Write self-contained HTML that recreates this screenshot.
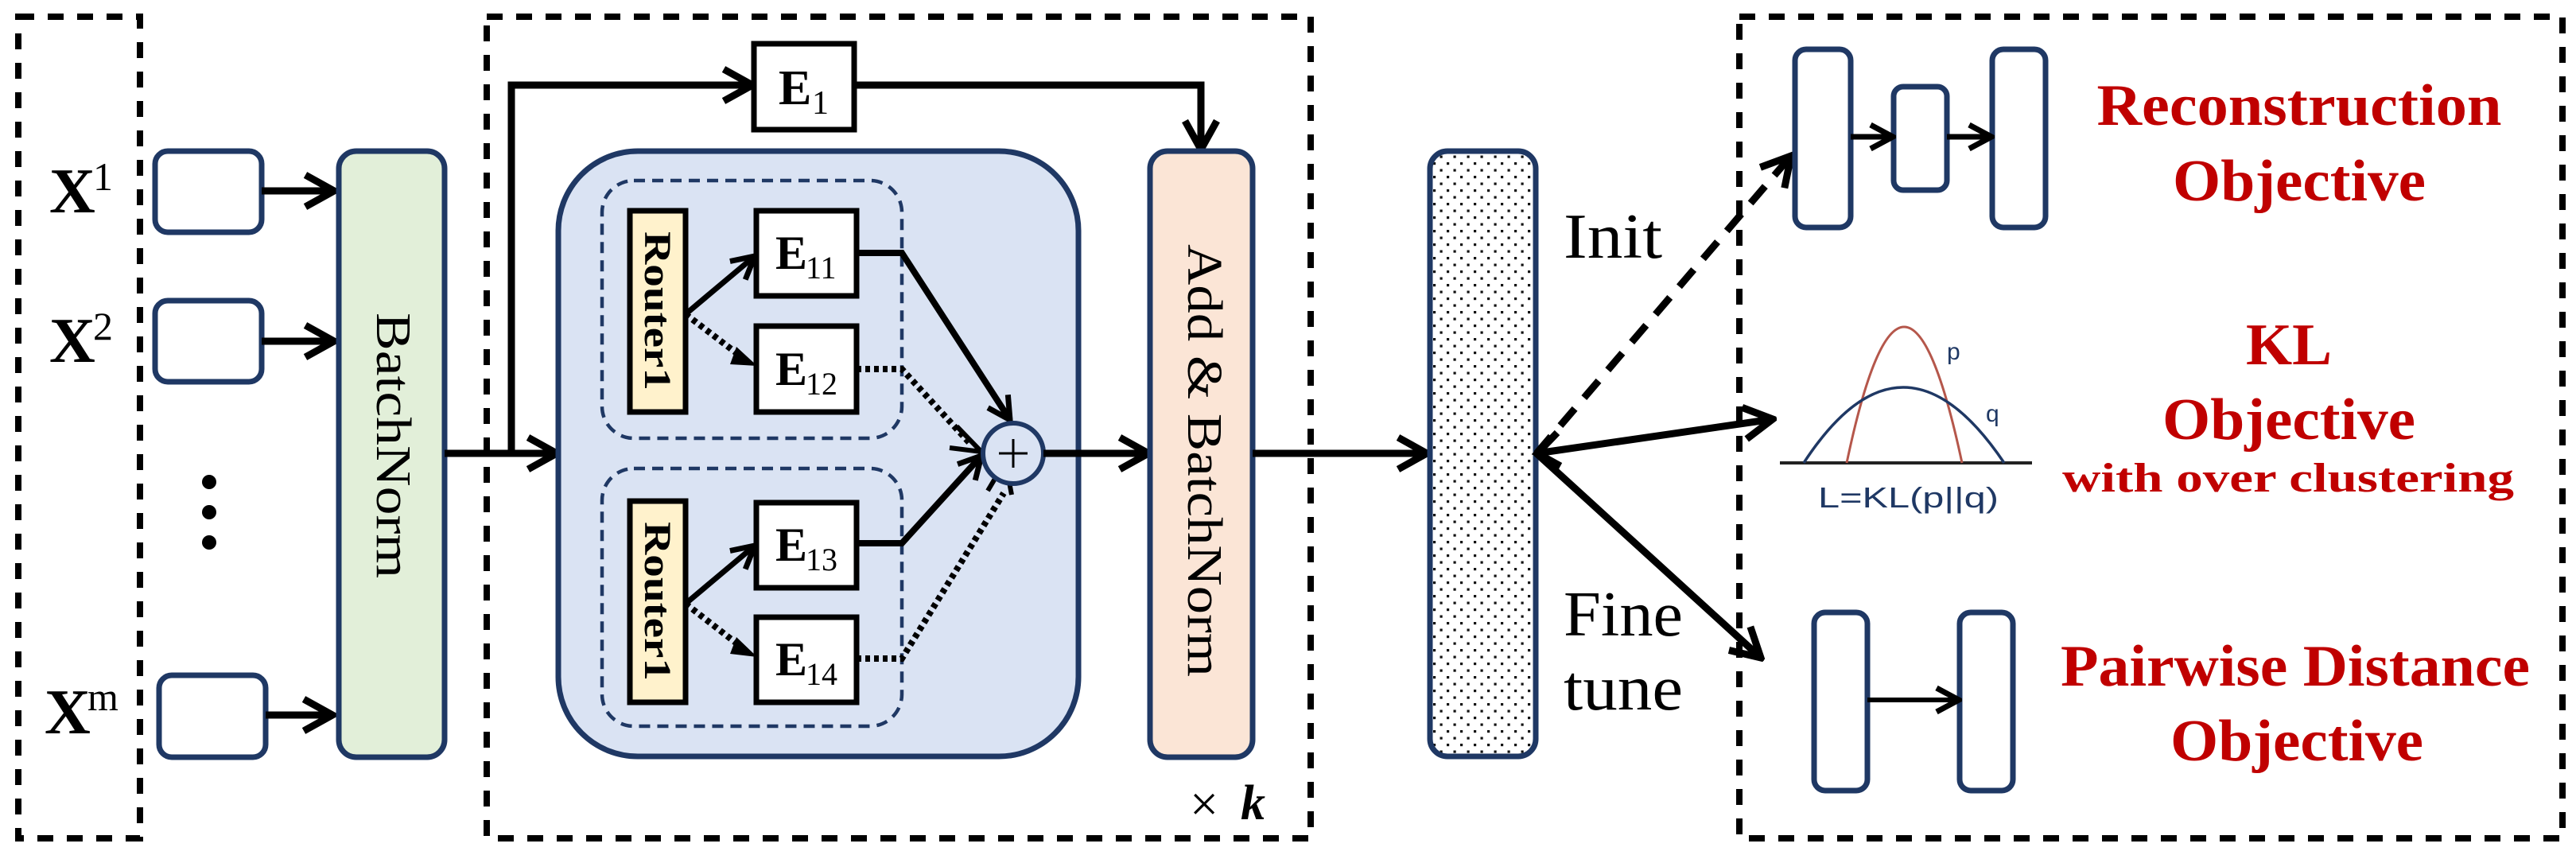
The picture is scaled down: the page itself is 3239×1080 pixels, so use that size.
<!DOCTYPE html>
<html><head><meta charset="utf-8"><style>
html,body{margin:0;padding:0;background:#fff;}
svg{display:block;}
</style></head><body>
<svg width="3239" height="1080" viewBox="0 0 3239 1080" xmlns="http://www.w3.org/2000/svg">
<defs>
<marker id="ah" markerUnits="userSpaceOnUse" markerWidth="50" markerHeight="50" viewBox="0 0 50 50" refX="45" refY="25" orient="auto">
<path d="M9,5 L45,25 L9,45" fill="none" stroke="#000" stroke-width="9"/>
</marker>
<marker id="ahs" markerUnits="userSpaceOnUse" markerWidth="38" markerHeight="38" viewBox="0 0 38 38" refX="34" refY="19" orient="auto">
<path d="M6,4 L34,19 L6,34" fill="none" stroke="#000" stroke-width="7"/>
</marker>
<pattern id="dots" width="17" height="17" patternUnits="userSpaceOnUse">
<rect x="0" y="0" width="3.2" height="3.2" fill="#111"/>
<rect x="8.5" y="8.5" width="3.2" height="3.2" fill="#111"/>
</pattern>
</defs>

<g fill="none" stroke="#000" stroke-width="8" stroke-dasharray="20 17">
<rect x="23" y="21" width="153" height="1033"/>
<rect x="612" y="21" width="1036" height="1033"/>
<rect x="2187" y="21" width="1035" height="1033"/>
</g>

<!-- X labels -->
<g font-family="Liberation Serif, serif" fill="#000">
<text x="62" y="267" font-size="80" font-weight="bold">X</text><text x="117" y="239" font-size="50">1</text>
<text x="62" y="455" font-size="80" font-weight="bold">X</text><text x="117" y="427" font-size="50">2</text>
<text x="56" y="922" font-size="80" font-weight="bold">X</text><text x="110" y="893" font-size="50">m</text>
</g>
<circle cx="263" cy="606" r="9"/><circle cx="263" cy="644" r="9"/><circle cx="263" cy="682" r="9"/>

<!-- input boxes -->
<g fill="#fff" stroke="#1f3864" stroke-width="7">
<rect x="195" y="190" width="134" height="102" rx="16"/>
<rect x="195" y="378" width="134" height="102" rx="16"/>
<rect x="200" y="849" width="134" height="103" rx="16"/>
</g>
<g stroke="#000" stroke-width="9" marker-end="url(#ah)">
<line x1="329" y1="240" x2="420" y2="240"/>
<line x1="329" y1="429" x2="420" y2="429"/>
<line x1="334" y1="899" x2="418" y2="899"/>
</g>

<!-- BatchNorm -->
<rect x="426" y="190" width="133" height="762" rx="22" fill="#e2efd9" stroke="#1f3864" stroke-width="7"/>
<text transform="translate(474,560) rotate(90)" text-anchor="middle" font-family="Liberation Serif, serif" font-size="62" fill="#000" textLength="334" lengthAdjust="spacingAndGlyphs">BatchNorm</text>

<!-- E1 path -->
<g stroke="#000" stroke-width="9" fill="none">
<polyline points="559,570 700,570" marker-end="url(#ah)"/>
<polyline points="643,570 643,107 946,107" marker-end="url(#ah)"/>
<polyline points="1074,107 1510,107 1510,188" marker-end="url(#ah)"/>
</g>
<rect x="948" y="55" width="126" height="108" fill="#fff" stroke="#000" stroke-width="7"/>
<text x="979" y="131" font-family="Liberation Serif, serif" font-size="62" font-weight="bold">E</text>
<text x="1021" y="143" font-family="Liberation Serif, serif" font-size="42">1</text>

<!-- blue box -->
<rect x="702" y="190" width="654" height="761" rx="100" fill="#dae3f3" stroke="#1f3864" stroke-width="7"/>
<g fill="none" stroke="#1f3864" stroke-width="4.5" stroke-dasharray="14 9">
<rect x="757" y="227" width="377" height="324" rx="40"/>
<rect x="757" y="589" width="377" height="324" rx="40"/>
</g>

<!-- routers -->
<g fill="#fff2cc" stroke="#000" stroke-width="7">
<rect x="792" y="265" width="70" height="253"/>
<rect x="792" y="630" width="70" height="253"/>
</g>
<g font-family="Liberation Serif, serif" font-size="48" font-weight="bold" fill="#000">
<text transform="translate(811,391) rotate(90)" text-anchor="middle" textLength="200" lengthAdjust="spacingAndGlyphs">Router1</text>
<text transform="translate(811,756) rotate(90)" text-anchor="middle" textLength="200" lengthAdjust="spacingAndGlyphs">Router1</text>
</g>

<!-- experts -->
<g fill="#fff" stroke="#000" stroke-width="7">
<rect x="951" y="265" width="126" height="107"/>
<rect x="951" y="410" width="126" height="108"/>
<rect x="951" y="632" width="126" height="107"/>
<rect x="951" y="776" width="126" height="107"/>
</g>
<g font-family="Liberation Serif, serif" fill="#000">
<text x="975" y="338" font-size="60" font-weight="bold">E</text><text x="1013" y="350" font-size="40">11</text>
<text x="975" y="484" font-size="60" font-weight="bold">E</text><text x="1013" y="496" font-size="40">12</text>
<text x="975" y="705" font-size="60" font-weight="bold">E</text><text x="1013" y="717" font-size="40">13</text>
<text x="975" y="849" font-size="60" font-weight="bold">E</text><text x="1013" y="861" font-size="40">14</text>
</g>

<!-- router arrows -->
<g stroke="#000" stroke-width="7" fill="none">
<line x1="862" y1="395" x2="949" y2="322" marker-end="url(#ahs)"/>
<line x1="862" y1="759" x2="949" y2="686" marker-end="url(#ahs)"/>
</g>
<g stroke="#000" stroke-width="8" fill="none" stroke-dasharray="6 5">
<line x1="862" y1="395" x2="934" y2="450"/>
<line x1="862" y1="759" x2="934" y2="815"/>
</g>
<path d="M926,436 L952,460 L918,458 Z" fill="#000"/>
<path d="M926,801 L952,826 L918,822 Z" fill="#000"/>

<!-- expert to sum -->
<g stroke="#000" stroke-width="8" fill="none">
<polyline points="1077,318 1134,318 1270,528" marker-end="url(#ahs)"/>
<polyline points="1077,683 1134,683 1234,573" marker-end="url(#ahs)"/>
</g>
<g stroke="#000" stroke-width="8" fill="none" stroke-dasharray="6 5">
<polyline points="1077,464 1134,464 1220,558"/>
<polyline points="1077,828 1134,828 1262,620"/>
</g>
<path d="M1203,536 L1234,568 L1194,563" fill="none" stroke="#000" stroke-width="6"/>
<path d="M1242,617 L1264,580 L1272,622" fill="none" stroke="#000" stroke-width="6"/>

<circle cx="1274" cy="570" r="38" fill="#dae3f3" stroke="#1f3864" stroke-width="6"/>
<line x1="1256" y1="570" x2="1292" y2="570" stroke="#000" stroke-width="3"/>
<line x1="1274" y1="552" x2="1274" y2="588" stroke="#000" stroke-width="3"/>

<line x1="1312" y1="570" x2="1444" y2="570" stroke="#000" stroke-width="9" marker-end="url(#ah)"/>

<!-- Add & BatchNorm -->
<rect x="1446" y="190" width="129" height="762" rx="22" fill="#fbe5d6" stroke="#1f3864" stroke-width="7"/>
<text transform="translate(1494,579) rotate(90)" text-anchor="middle" font-family="Liberation Serif, serif" font-size="62" fill="#000" textLength="544" lengthAdjust="spacingAndGlyphs">Add &amp; BatchNorm</text>

<text x="1496" y="1032" font-family="Liberation Serif, serif" font-size="64" fill="#000">×</text>
<text x="1560" y="1030" font-family="Liberation Serif, serif" font-size="62" font-weight="bold" font-style="italic" fill="#000">k</text>

<line x1="1575" y1="570" x2="1794" y2="570" stroke="#000" stroke-width="9" marker-end="url(#ah)"/>

<!-- dotted bar -->
<rect x="1798" y="190" width="133" height="761" rx="22" fill="#fff"/>
<rect x="1798" y="190" width="133" height="761" rx="22" fill="url(#dots)" stroke="#1f3864" stroke-width="7"/>

<g font-family="Liberation Serif, serif" font-size="80" fill="#000">
<text x="1966" y="324" textLength="124" lengthAdjust="spacingAndGlyphs">Init</text>
<text x="1966" y="799" textLength="150" lengthAdjust="spacingAndGlyphs">Fine</text>
<text x="1966" y="892" textLength="150" lengthAdjust="spacingAndGlyphs">tune</text>
</g>

<!-- outgoing arrows -->
<line x1="1932" y1="570" x2="2252" y2="196" stroke="#000" stroke-width="9" stroke-dasharray="28 18" marker-end="url(#ah)"/>
<line x1="1932" y1="570" x2="2229" y2="527" stroke="#000" stroke-width="9" marker-end="url(#ah)"/>
<line x1="1932" y1="570" x2="2214" y2="827" stroke="#000" stroke-width="9" marker-end="url(#ah)"/>
<path d="M1958,544 L1933,570 L1962,586" fill="none" stroke="#000" stroke-width="9"/>

<!-- reconstruction -->
<g fill="#fff" stroke="#1f3864" stroke-width="7">
<rect x="2257" y="62" width="70" height="224" rx="14"/>
<rect x="2381" y="109" width="67" height="130" rx="12"/>
<rect x="2505" y="62" width="67" height="224" rx="14"/>
</g>
<g stroke="#000" stroke-width="7">
<line x1="2327" y1="172" x2="2380" y2="172" marker-end="url(#ahs)"/>
<line x1="2448" y1="172" x2="2504" y2="172" marker-end="url(#ahs)"/>
</g>

<g font-family="Liberation Serif, serif" font-weight="bold" fill="#c00000" text-anchor="middle">
<text x="2891" y="157" font-size="74" textLength="509" lengthAdjust="spacingAndGlyphs">Reconstruction</text>
<text x="2891" y="252" font-size="74" textLength="318" lengthAdjust="spacingAndGlyphs">Objective</text>
<text x="2878" y="458" font-size="74" textLength="108" lengthAdjust="spacingAndGlyphs">KL</text>
<text x="2878" y="552" font-size="74" textLength="318" lengthAdjust="spacingAndGlyphs">Objective</text>
<text x="2877" y="618" font-size="52" textLength="568" lengthAdjust="spacingAndGlyphs">with over clustering</text>
<text x="2886" y="862" font-size="74" textLength="590" lengthAdjust="spacingAndGlyphs">Pairwise Distance</text>
<text x="2888" y="956" font-size="74" textLength="318" lengthAdjust="spacingAndGlyphs">Objective</text>
</g>

<!-- KL graph -->
<line x1="2238" y1="582" x2="2555" y2="582" stroke="#222" stroke-width="4"/>
<path d="M2322,582 Q2394,240 2467,582" fill="none" stroke="#b5574b" stroke-width="3"/>
<path d="M2268,582 Q2392,392 2520,582" fill="none" stroke="#1f3864" stroke-width="3.5"/>
<text x="2448" y="452" font-family="Liberation Sans, sans-serif" font-size="30" fill="#1f3864">p</text>
<text x="2497" y="530" font-family="Liberation Sans, sans-serif" font-size="30" fill="#1f3864">q</text>
<text x="2286" y="638" font-family="Liberation Sans, sans-serif" font-size="36" fill="#1f3864" textLength="227" lengthAdjust="spacingAndGlyphs">L=KL(p||q)</text>

<!-- pairwise -->
<g fill="#fff" stroke="#1f3864" stroke-width="7">
<rect x="2281" y="770" width="67" height="224" rx="14"/>
<rect x="2464" y="770" width="67" height="224" rx="14"/>
</g>
<line x1="2348" y1="880" x2="2463" y2="880" stroke="#000" stroke-width="6" marker-end="url(#ahs)"/>
</svg>
</body></html>
